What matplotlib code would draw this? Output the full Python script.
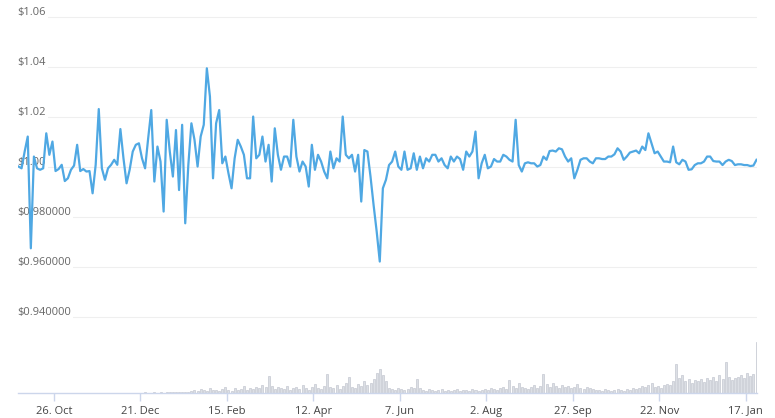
import matplotlib
matplotlib.use("Agg")
import matplotlib.pyplot as plt
import matplotlib.transforms as mtransforms
import pandas as pd

# price samples every 2 days
START = "2020-10-03"
price = [
    1.0003, 0.9996, 1.0063, 1.0123, 0.9676, 1.0043, 0.9996, 0.9990, 0.9996, 1.0136,
    1.0050, 1.0103, 0.9985, 0.9993, 1.0010, 0.9945, 0.9956, 0.9990, 1.0007, 1.0090,
    0.9985, 0.9993, 0.9983, 0.9985, 0.9896, 1.0010, 1.0233, 0.9996, 0.9950, 0.9996,
    1.0010, 1.0030, 1.0010, 1.0153, 1.0036, 0.9936, 0.9990, 1.0063, 1.0090, 1.0096,
    1.0036, 0.9996, 1.0116, 1.0229, 0.9943, 1.0083, 1.0023, 0.9823, 1.0190, 1.0063,
    0.9963, 1.0149, 0.9909, 1.0170, 0.9776, 1.0009, 1.0176, 1.0110, 1.0003, 1.0123,
    1.0170, 1.0396, 1.0283, 0.9956, 1.0176, 1.0229, 1.0016, 1.0043, 0.9976, 0.9916,
    1.0036, 1.0110, 1.0083, 1.0050, 0.9956, 0.9956, 1.0203, 1.0036, 1.0050, 1.0123,
    1.0023, 1.0090, 0.9943, 1.0156, 1.0050, 0.9990, 1.0043, 1.0043, 1.0003, 1.0190,
    1.0043, 0.9983, 1.0023, 1.0003, 0.9923, 1.0090, 0.9990, 1.0050, 1.0023, 0.9983,
    0.9956, 1.0063, 0.9996, 1.0036, 1.0023, 1.0203, 1.0050, 1.0036, 1.0050, 0.9983,
    1.0050, 0.9863, 1.0069, 1.0063, 0.9963, 0.9849, 0.9743, 0.9623, 0.9916, 0.9950,
    1.0009, 1.0023, 1.0063, 1.0003, 0.9990, 1.0063, 0.9990, 0.9996, 1.0056, 0.9990,
    1.0043, 0.9996, 1.0036, 1.0023, 1.0050, 1.0050, 1.0023, 1.0036, 1.0009, 0.9996,
    1.0043, 1.0023, 1.0043, 1.0033, 0.9990, 1.0063, 1.0043, 1.0063, 1.0143, 0.9956,
    1.0016, 1.0050, 0.9996, 1.0003, 1.0033, 1.0023, 1.0023, 1.0050, 1.0043, 1.0030,
    1.0023, 1.0190, 1.0009, 0.9983, 1.0016, 1.0020, 1.0016, 1.0016, 1.0003, 1.0009,
    1.0043, 1.0030, 1.0065, 1.0067, 1.0063, 1.0076, 1.0072, 1.0043, 1.0023, 1.0036,
    0.9956, 0.9990, 1.0030, 1.0036, 1.0036, 1.0023, 1.0016, 1.0036, 1.0036, 1.0033,
    1.0033, 1.0043, 1.0043, 1.0052, 1.0076, 1.0063, 1.0030, 1.0043, 1.0059, 1.0063,
    1.0067, 1.0056, 1.0083, 1.0069, 1.0136, 1.0096, 1.0056, 1.0063, 1.0043, 1.0023,
    1.0023, 1.0020, 1.0083, 1.0020, 1.0012, 1.0030, 1.0023, 0.9990, 0.9992, 1.0009,
    1.0016, 1.0016, 1.0023, 1.0043, 1.0043, 1.0025, 1.0023, 1.0023, 1.0009, 1.0023,
    1.0030, 1.0025, 1.0009, 1.0012, 1.0012, 1.0009, 1.0009, 1.0005, 1.0007, 1.0030,
]

# traded volume per sample, relative units
volume = (
    [0] * 38
    + [0.3, 0.5, 0.3, 0.6, 0.4, 0.5, 0.8, 0.5, 0.6, 0.4, 0.7, 1.0, 0.6, 0.8, 1.2, 0.9, 1.5, 1.1]
    + [2, 3, 2.5, 4, 3, 2, 5, 3, 3.5, 2, 4, 6, 3, 2.5, 5, 3, 4, 7, 3, 5, 4, 6]
    + [5, 8, 6, 17, 7, 4, 6, 5]
    + [4, 7, 3, 5, 6, 4, 8, 5, 3, 6, 9, 5, 4, 7, 19]
    + [6, 5, 8, 4, 7, 10, 16, 6, 5, 9, 7, 12, 8, 10, 14, 20, 24, 18, 12]
    + [5, 4, 3, 5, 4, 3, 4, 6, 5, 14, 5]
    + [3, 2, 4, 3, 2, 3, 4, 2, 3, 2, 3, 4, 2, 3, 3, 2, 4, 3, 2, 3, 4, 3, 5, 4, 3]
    + [5, 6, 4, 13, 7, 5, 10, 6, 5, 4]
    + [6, 8, 5, 7, 19, 9, 6, 10, 7, 5, 8, 6, 7, 5, 6, 9, 5, 4, 6, 5, 4, 3]
    + [3, 2, 4, 3, 2, 3, 4, 3, 2, 4, 3, 5, 4]
    + [5, 7, 6, 8, 10, 6, 7, 5, 8, 9]
    + [8, 12, 29, 15, 18, 12, 14, 10, 13]
    + [12, 14, 11, 15, 13, 16, 12, 18, 14, 31, 16, 13, 15]
    + [16, 18, 15, 20, 17, 19, 51]
)

x_ticks = ["2020-10-26", "2020-12-21", "2021-02-15", "2021-04-12", "2021-06-07",
           "2021-08-02", "2021-09-27", "2021-11-22", "2022-01-17"]
y_ticks = [0.94, 0.96, 0.98, 1.00, 1.02, 1.04, 1.06]
y_labels = ["$0.940000", "$0.960000", "$0.980000", "$1.00", "$1.02", "$1.04", "$1.06"]

dates = pd.date_range(START, periods=len(price), freq="2D")
tick_dates = pd.to_datetime(x_ticks)

plt.rcParams["font.family"] = ["Open Sans", "DejaVu Sans"]

fig = plt.figure(figsize=(7.75, 4.18), dpi=100)
ax = fig.add_axes([0.0226, 0.0598, 0.9542, 0.9402])
ax.set_xlim(pd.Timestamp("2020-10-02 09:00"), pd.Timestamp("2022-01-24 08:00"))
ax.set_ylim(0.90972, 1.06692)

# volume bars on their own scale at the bottom
vax = ax.twinx()
vax.set_ylim(0, max(volume) * 7.7)
vax.bar(dates, volume, width=1.3, color="#dcdfe5", edgecolor="#b9bec8", linewidth=0.4, zorder=1)
vax.axis("off")
ax.set_zorder(vax.get_zorder() + 1)
ax.patch.set_visible(False)

for v in y_ticks:
    ax.axhline(v, color="#efefef", linewidth=0.8, zorder=0.5)

trans = mtransforms.blended_transform_factory(ax.transAxes, ax.transData)
trans = mtransforms.offset_copy(trans, fig=fig, x=0, y=1.3, units="points")
for v, lab in zip(y_ticks, y_labels):
    ax.text(0, v, lab.replace("$", r"\$"), transform=trans, ha="left", va="baseline",
            fontsize=8, color="#666666", zorder=1,
            bbox=dict(facecolor="white", edgecolor="none", pad=1.2))

ax.plot(dates, price, color="#4fa8e3", linewidth=1.6, zorder=3)

for s in ["top", "right", "left"]:
    ax.spines[s].set_visible(False)
ax.spines["bottom"].set_color("#ccd6eb")
ax.spines["bottom"].set_linewidth(1)
ax.set_yticks([])
ax.set_xticks(tick_dates)
ax.set_xticklabels([f"{d.day}. {d:%b}" for d in tick_dates])
ax.tick_params(axis="x", length=6, width=1, color="#ccd6eb", labelsize=8,
               labelcolor="#444444", pad=3)

fig.savefig("out.png", dpi=100)
